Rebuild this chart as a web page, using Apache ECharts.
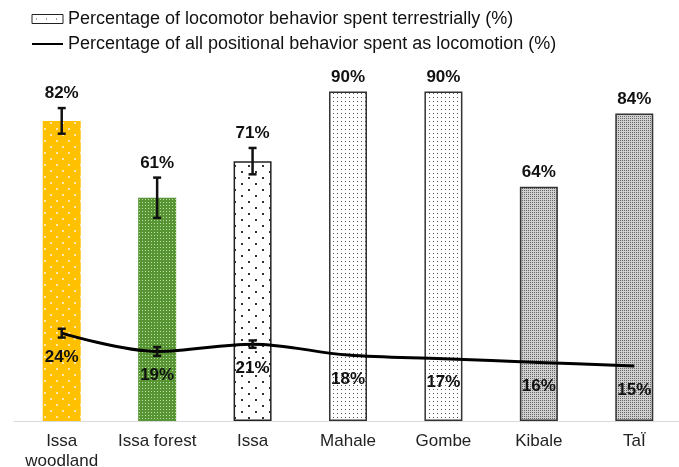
<!DOCTYPE html>
<html><head><meta charset="utf-8">
<script src="https://cdn.jsdelivr.net/npm/echarts@6/dist/echarts.min.js"></script>
<style>html,body{margin:0;padding:0;background:#fff;overflow:hidden}#c{width:679px;height:467px}</style>
</head><body><div id="c"></div>
<script>
var categories = ['Issa\nwoodland', 'Issa forest', 'Issa', 'Mahale', 'Gombe', 'Kibale', 'TaÏ'];
var terrestrial = [82, 61, 71, 90, 90, 64, 84];
var terrestrialErr = [3.5, 5.5, 3.6, 0, 0, 0, 0];
var locomotion = [24, 19, 21, 18, 17, 16, 15];
var locomotionErr = [1.2, 1.2, 1.0, 0, 0, 0, 0];
var barName = 'Percentage of locomotor behavior spent terrestrially (%)';
var lineName = 'Percentage of all positional behavior spent as locomotion (%)';

function makePattern(w, h, bg, dots, dotColor, ds) {
  var c = document.createElement('canvas');
  c.width = w; c.height = h;
  var g = c.getContext('2d');
  g.fillStyle = bg; g.fillRect(0, 0, w, h);
  g.fillStyle = dotColor;
  dots.forEach(function (d) { g.fillRect(d[0], d[1], ds || 1, ds || 1); });
  return { image: c, repeat: 'repeat' };
}
var patWood = makePattern(12, 12, '#FFC000', [[2, 2], [8, 8]], '#FFE8A8', 2);
var patForest = makePattern(3, 3, '#579433', [[1, 1]], '#BEDDA4', 1);
var patSparse = makePattern(14, 12, '#ffffff', [[3, 3], [10, 9]], '#333333', 2);
var patMed = makePattern(4, 4, '#ffffff', [[1, 1]], '#555555', 1);
var patDense = makePattern(2, 2, '#d0d0d0', [[0, 0]], '#666666', 1);
var patLegend = makePattern(10, 9, '#ffffff', [[4, 4]], '#444444', 1);
var styles = [
  { color: patWood, borderWidth: 0 },
  { color: patForest, borderWidth: 0 },
  { color: patSparse, borderColor: '#222', borderWidth: 1.5 },
  { color: patMed, borderColor: '#333', borderWidth: 1.5 },
  { color: patMed, borderColor: '#333', borderWidth: 1.5 },
  { color: patDense, borderColor: '#333', borderWidth: 1.5 },
  { color: patDense, borderColor: '#333', borderWidth: 1.5 }
];
var barData = terrestrial.map(function (v, i) { return { value: v, itemStyle: styles[i] }; });
var barErrData = terrestrial.map(function (v, i) { return [i, v, terrestrialErr[i]]; });
var lineErrData = locomotion.map(function (v, i) { return [i, v, locomotionErr[i]]; });
var labelFont = 'bold 17px "Liberation Sans", Arial, sans-serif';

function errRender(labelAbove) {
  return function (params, api) {
    var i = api.value(0), v = api.value(1), e = api.value(2);
    var p = api.coord([i, v]);
    var hi = api.coord([i, v + e]);
    var lo = api.coord([i, v - e]);
    var children = [];
    var cap = 4;
    if (e > 0) {
      var st = { stroke: '#111', lineWidth: 2.5 };
      children.push({ type: 'line', shape: { x1: p[0], y1: hi[1], x2: p[0], y2: lo[1] }, style: st });
      children.push({ type: 'line', shape: { x1: p[0] - cap, y1: hi[1], x2: p[0] + cap, y2: hi[1] }, style: st });
      children.push({ type: 'line', shape: { x1: p[0] - cap, y1: lo[1], x2: p[0] + cap, y2: lo[1] }, style: st });
    }
    var txt = v + '%';
    if (labelAbove) {
      children.push({ type: 'text', style: { text: txt, x: p[0], y: hi[1] - 6, align: 'center', verticalAlign: 'bottom', font: labelFont, fill: '#111' } });
    } else {
      children.push({ type: 'text', style: { text: txt, x: p[0], y: p[1] + 24, align: 'center', verticalAlign: 'middle', font: labelFont, fill: '#111' } });
    }
    return { type: 'group', children: children };
  };
}

var chart = echarts.init(document.getElementById('c'), null, { renderer: 'canvas' });
chart.setOption({
  animation: false,
  backgroundColor: '#fff',
  textStyle: { fontFamily: '"Liberation Sans", Arial, sans-serif' },
  legend: {
    data: [
      { name: barName, icon: 'rect', itemStyle: { color: patLegend, borderColor: '#222', borderWidth: 1 } },
      { name: lineName, itemStyle: { opacity: 0 } }
    ],
    orient: 'vertical', left: 26, top: 5, itemGap: 7, itemWidth: 31, itemHeight: 9,
    textStyle: { fontSize: 18, color: '#111' },
    selectedMode: false
  },
  grid: { left: 14, right: -3, top: 55, bottom: 46, containLabel: false, outerBoundsMode: 'none' },
  xAxis: {
    type: 'category', data: categories,
    axisLine: { lineStyle: { color: '#d9d9d9', width: 1 } },
    axisTick: { show: false },
    axisLabel: { fontSize: 17, color: '#222', margin: 10, lineHeight: 20, interval: 0 }
  },
  yAxis: { type: 'value', min: 0, max: 100, show: false, splitLine: { show: false } },
  series: [
    { name: barName, type: 'bar', barWidth: 38, data: barData,
      itemStyle: { color: patSparse, borderColor: '#222', borderWidth: 1 }, z: 2 },
    { name: lineName, type: 'line', data: locomotion, symbol: 'none', smooth: 0.35,
      lineStyle: { color: '#000', width: 3 }, itemStyle: { color: '#000' }, z: 3 },
    { type: 'custom', data: barErrData, renderItem: errRender(true), z: 4, silent: true },
    { type: 'custom', data: lineErrData, renderItem: errRender(false), z: 5, silent: true }
  ]
});
</script></body></html>
